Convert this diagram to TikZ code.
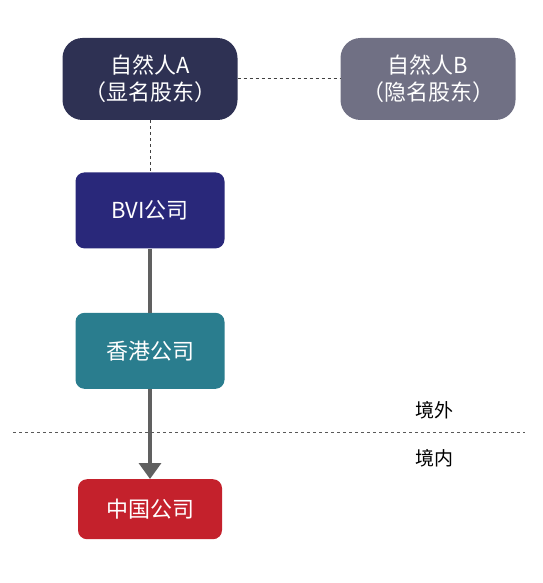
\documentclass[tikz,border=0pt]{standalone}
\usepackage{fontspec}
\setmainfont{Noto Sans CJK SC}
\usepackage{tikz}
\usetikzlibrary{positioning,arrows.meta}
\usepackage{xcolor}
\definecolor{holderA}{RGB}{46,49,83}
\definecolor{holderB}{RGB}{112,112,132}
\definecolor{bvi}{RGB}{41,40,122}
\definecolor{hk}{RGB}{42,125,142}
\definecolor{cn}{RGB}{196,33,44}
\definecolor{link}{RGB}{96,96,96}

\begin{document}
\begin{tikzpicture}[
    x=1pt, y=-1pt,
    box/.style={rounded corners=20pt, text=white, align=center, font=\fontsize{22}{27}\selectfont},
    person/.style={box, minimum width=175pt, minimum height=82pt},
    company/.style={box, rounded corners=9pt, minimum width=149pt, minimum height=76pt},
    arrow/.style={-{Triangle[length=16pt, width=22pt]}, line width=3.5pt, draw=link, fill=link},
    solid link/.style={line width=3.5pt, draw=link},
    dashed link/.style={draw=black!75, dashed, line width=1pt},
    border/.style={draw=black!65, dashed, line width=0.7pt},
    area/.style={font=\fontsize{19}{22}\selectfont}
]
    \useasboundingbox (0,0) rectangle (542,583);

    \node[person, fill=holderA] (a) at (150,79) {自然人A\\（显名股东）};
    \node[person, fill=holderB] (b) at (428,79) {自然人B\\（隐名股东）};
    \node[company, fill=bvi, below=52pt of a] (bvi) {BVI公司};
    \node[company, fill=hk, below=64pt of bvi] (hk) {香港公司};
    \node[company, fill=cn, minimum width=144pt, minimum height=60pt, below=90pt of hk] (cn) {中国公司};

    \coordinate (lineL) at (13,432);
    \coordinate (lineR) at (525,432);
    \node[area] (abroad) at (434,410) {境外};
    \node[area] (home) at (434,458) {境内};

    \draw[dashed link] (a) -- (b);
    \draw[dashed link] (a) -- (bvi);
    \draw[solid link] (bvi) -- (hk);
    \draw[arrow] (hk) -- (cn);
    \draw[border] (lineL) -- (lineR);
\end{tikzpicture}
\end{document}
